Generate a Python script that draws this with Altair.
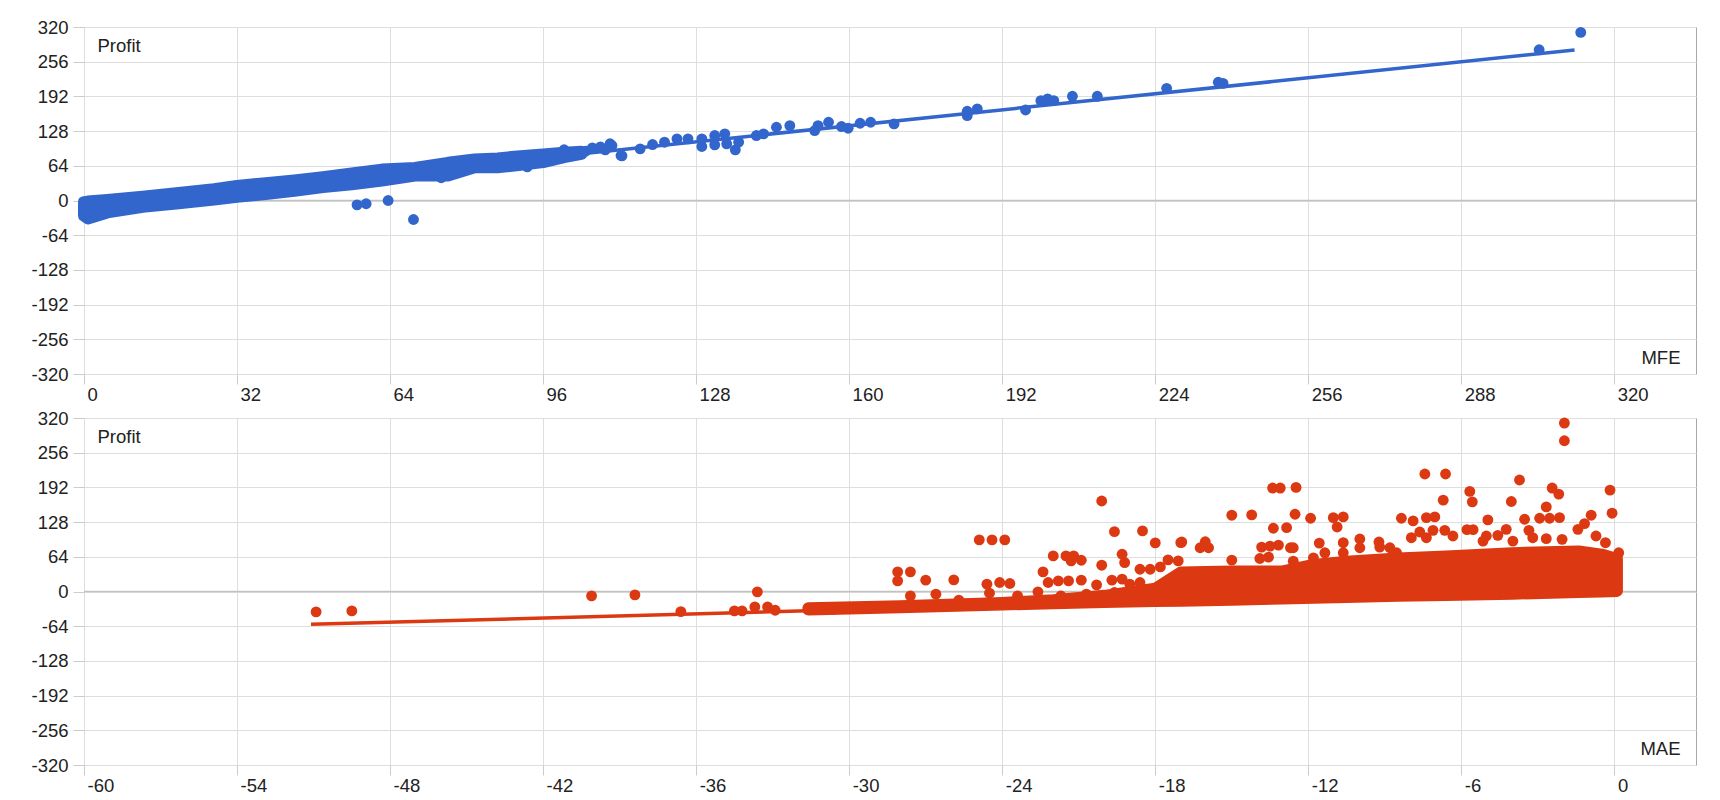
import altair as alt
import pandas as pd

BLUE = "#3366cc"
RED = "#dc3912"
FONT = "Liberation Sans, Arial, sans-serif"

Y_TICKS = [-320, -256, -192, -128, -64, 0, 64, 128, 192, 256, 320]
MFE_TICKS = [0, 32, 64, 96, 128, 160, 192, 224, 256, 288, 320]
MAE_TICKS = [-60, -54, -48, -42, -36, -30, -24, -18, -12, -6, 0]

# ---------------- MFE panel (top) ----------------
mfe_dot_x = [57.1, 59.0, 63.6, 68.9, 99.6, 100.4, 103.4, 104.9, 106.3, 110.0, 112.3,
             109.0, 110.4, 112.5, 116.3, 118.9, 121.4, 124.0, 126.3, 129.2, 129.2,
             131.9, 131.9, 134.0, 134.4, 136.2, 136.9, 140.6, 142.1, 144.8, 147.6,
             152.8, 153.5, 155.7, 158.4, 159.8, 162.3, 164.5, 169.4, 184.7, 184.7,
             186.8, 196.9, 200.1, 201.5, 202.8, 206.7, 211.9, 226.4, 237.2, 238.2,
             304.3, 313.0, 74.7, 92.7, 108.0]
mfe_dot_y = [-8, -6, 0, -35, 80, 93.5, 86, 91, 97, 104.6, 83,
             93.4, 101.4, 82.4, 95.3, 103.2, 107.5, 113.7, 113.7, 99.6, 113.7,
             119.8, 102.6, 122.9, 104.5, 93.4, 107.5, 119.8, 122.9, 135.1, 138.2,
             129, 138.2, 144.3, 136.4, 133.3, 142.5, 144.3, 141.3, 156.6, 164.6,
             168.9, 167, 184.2, 187.3, 184.2, 192.2, 192.2, 206.9, 218, 216,
             278, 310, 42, 62, 99]
# dense cloud of points: lower / upper centre of the band
mfe_band_x = [0, 0.8, 4.9, 12.3, 19.8, 27.2, 32, 38, 44, 50, 56, 62.3, 69.2, 76.1, 81.7, 86.5, 90, 96, 100.4, 104]
mfe_band_hi = [-3, -2, 1, 7, 14, 21, 27, 32, 37, 43, 50, 57, 60, 69.5, 75.7, 77.6, 80.7, 85, 88, 90]
mfe_band_lo = [-28, -33, -22, -11.5, -5, 2, 7, 12, 18, 25, 30, 36.6, 46, 46, 61.5, 61.5, 64.6, 70.8, 80, 86]
mfe_trend_x = [0, 311.7]
mfe_trend_y = [-9.5, 277.5]

# ---------------- MAE panel (bottom) ----------------
mae_dot_x = [-50.9, -49.5, -40.1, -38.4, -36.6, -34.5, -34.2, -33.7, -33.6, -33.2, -32.9,
             -31.6, -31.0, -30.6, -30.2,
             -28.1, -27.6, -28.1, -27.0, -27.6, -26.6, -25.9, -25.7, -24.9, -24.4, -23.9,
             -24.6, -24.5, -24.1, -23.7, -23.4, -22.6, -22.4, -22.0, -21.5, -21.2, -21.3,
             -20.9, -20.1, -20.1, -19.6, -19.3, -19.2, -18.5, -18.0, -18.6, -18.2, -17.8,
             -17.5, -17.0, -17.1, -22.2, -21.8, -21.4, -20.9, -20.3,
             -19.7, -19.3, -19.0, -18.6, -21.7, -20.7, -19.6,
             -16.96, -16.24, -16.04, -15.91, -15.0, -14.22, -15.0, -13.4, -13.1, -12.48,
             -12.52, -13.37, -12.85, -13.83, -13.5, -13.17, -12.59, -11.91, -11.57, -11.02,
             -10.63, -10.87, -10.63, -9.98, -9.23, -8.8, -8.35, -7.89, -7.43, -6.62,
             -6.71, -7.37, -7.04, -7.96, -7.63, -7.11, -6.65, -7.37, -6.33, -5.67,
             -5.57, -5.78, -5.54, -4.96, -5.02, -4.57, -4.24, -3.72, -4.04, -3.52,
             -3.35, -2.93, -2.67, -2.54, -2.15, -2.44, -2.18, -2.67, -1.43, -1.17,
             -0.91, -0.72, -0.35, -0.17, -0.09, 0.17, -2.05, -3.2, -3.98, -5.15,
             -8.54, -9.2, -9.98, -11.35, -10.63, -11.8, -12.59, -12.7, -13.56, -13.9,
             -1.96, -1.96]
mae_dot_y = [-37.7, -35.8, -8, -6.2, -37, -35.8, -35.8, -28.4, -0.6, -28.4, -34.6,
             -32.7, -32.7, -32.7, -30.9,
             36.2, 36.2, 19.6, 20.9, -8, -4.9, 21.5, -16, 95.1, 95.1, 95.1,
             13.5, -3, 16.6, 14.7, -8, -0.6, 36.2, 65.6, 65.6, 65.6, 56.4,
             57.7, 166.9, 48.5, 110.4, 68.7, 53.4, 111.7, 89.6, 41.1, 41.1, 45.4,
             58.3, 90.2, 56.4, 16.6, 19.6, 19.6, 20.9, 12.3,
             20.9, 22.7, 13.5, 16.6, -8, -4.9, -1.8,
             91.2, 80.7, 91.8, 80.7, 140.7, 141.3, 57.8, 190.8, 190.8, 192,
             142.5, 116.6, 117.8, 81.9, 83.8, 85.6, 80.7, 135.1, 89.3, 136.3,
             137.6, 119, 90, 96.8, 91.2, 80.7, 135.1, 130.2, 216.7, 216.7,
             168.5, 136.3, 137.6, 99.2, 109.8, 112.8, 112.8, 99.2, 102.3, 184.6,
             165.4, 114.1, 114.1, 132, 102.3, 103.6, 114.7, 205.6, 166, 133.3,
             112.8, 135.1, 156.1, 135.1, 136.3, 190.8, 179.6, 97.4, 114.7, 125.2,
             140.7, 102.3, 90, 187.1, 144.4, 71.4, 96.2, 99.2, 93, 93,
             71.4, 81.9, 80.7, 71.4, 71.4, 62.1, 56, 80.7, 63.4, 60.9,
             310.7, 278]
mae_band_x = [-31.6, -28, -24, -22, -20, -18, -17, -15, -13, -11.8, -10.5, -8.5, -6.6, -4, -1.4, -0.5, 0.1]
mae_band_lo = [-33, -29, -24, -21.5, -19.5, -17.5, -17, -15, -13, -11.5, -10, -8, -6.5, -4, -1, 0, 1]
mae_band_hi = [-31, -27, -21, -16, -8, 5, 35, 37, 37, 49, 55, 61, 64.5, 70.7, 73.8, 68, 60]
mae_trend_x = [-51.1, 0.1]
mae_trend_y = [-60.5, 5]

PLOT_W = 1612
PLOT_H = 347
LABEL_EXPR = "'' + datum.value"


def panel(dx, dy, bx, blo, bhi, tx, ty, color, xdom, xticks, xtitle):
    dots = pd.DataFrame({"x": dx, "y": dy})
    band = pd.DataFrame({"x": bx, "lo": blo, "hi": bhi})
    trend = pd.DataFrame({"x": tx, "y": ty})
    zero = pd.DataFrame({"y": [0]})

    xs = alt.Scale(domain=xdom, nice=False, zero=False)
    ys = alt.Scale(domain=[-320, 320], nice=False, zero=False)
    xaxis = alt.Axis(values=xticks, labelExpr=LABEL_EXPR, title=xtitle, labelAlign="left",
                     labelOffset=3, labelPadding=1, tickSize=10, labelFlush=False,
                     labelOverlap=False, titleX=PLOT_W - 16, titleY=-10.7,
                     titleAlign="right", titleBaseline="alphabetic")
    yaxis = alt.Axis(values=Y_TICKS, labelExpr=LABEL_EXPR, title="Profit", tickSize=11,
                     labelPadding=5, labelFlush=False, labelOverlap=False,
                     titleAngle=0, titleX=13, titleY=24.7, titleAlign="left",
                     titleBaseline="alphabetic")

    def X(f):
        return alt.X(f, type="quantitative", scale=xs, axis=xaxis)

    def Y(f):
        return alt.Y(f, type="quantitative", scale=ys, axis=yaxis)

    zl = alt.Chart(zero).mark_rule(color="#c2c2c2", strokeWidth=1.5).encode(y=Y("y"))
    tl = alt.Chart(trend).mark_line(color=color, strokeWidth=3.5).encode(x=X("x"), y=Y("y"))
    bd = alt.Chart(band).mark_area(fill=color, stroke=color, strokeWidth=12,
                                   strokeJoin="round", opacity=1).encode(
        x=X("x"), y=Y("lo"), y2=alt.Y2("hi"))
    pts = alt.Chart(dots).mark_circle(size=118, color=color, opacity=1).encode(x=X("x"), y=Y("y"))
    return alt.layer(zl, tl, bd, pts).properties(width=PLOT_W, height=PLOT_H)


top = panel(mfe_dot_x, mfe_dot_y, mfe_band_x, mfe_band_lo, mfe_band_hi,
            mfe_trend_x, mfe_trend_y, BLUE, [0, 337.1], MFE_TICKS, "MFE")
bottom = panel(mae_dot_x, mae_dot_y, mae_band_x, mae_band_lo, mae_band_hi,
               mae_trend_x, mae_trend_y, RED, [-60, 3.2], MAE_TICKS, "MAE")

chart = alt.vconcat(top, bottom, spacing=44, bounds="flush").properties(
    padding={"left": 22, "top": 9, "right": 5, "bottom": 5}
).configure_view(stroke="#a8a8a8", strokeWidth=1).configure_axis(
    labelFont=FONT, titleFont=FONT, labelFontSize=18.5, titleFontSize=18.5,
    labelColor="#222222", titleColor="#222222", titleFontWeight="normal",
    gridColor="#dedede", tickColor="#cccccc", domain=False
)

chart.save("out.html", embed_options={"renderer": "svg", "actions": False})
